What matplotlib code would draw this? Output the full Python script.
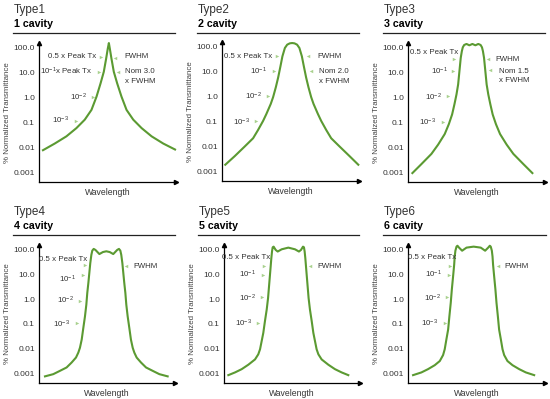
import matplotlib
matplotlib.use("Agg")
import matplotlib.pyplot as plt
from matplotlib.lines import Line2D

plt.rcParams['font.family'] = ['Liberation Sans', 'DejaVu Sans']
plt.rcParams['mathtext.fontset'] = 'custom'
plt.rcParams['mathtext.rm'] = 'Liberation Sans'

# --- curve data (x = relative wavelength 0..100, t = % normalized transmittance) ---
x1 = [2.9, 11.5, 20.0, 27.3, 33.4, 38.3, 42.0, 44.9, 47.3, 49.0, 50.2, 51.0,
      51.7, 52.9, 54.6, 57.1, 60.2, 63.9, 68.8, 74.9, 82.2, 90.7, 99.3]
t1 = [0.0076, 0.0141, 0.0275, 0.059, 0.129, 0.32, 1.1, 3.7, 11, 37, 94, 158,
      94, 37, 11, 3.7, 1.1, 0.32, 0.129, 0.059, 0.0275, 0.0141, 0.0081]

x2 = [2.4, 9.3, 16.6, 22.7, 26.3, 30.0, 32.4, 35.6, 37.3, 39.3, 41.0, 42.7, 44.1,
      45.9, 47.6, 49.5, 51.2, 52.9, 54.8, 56.5, 58.3, 59.7, 61.4, 63.1, 65.1,
      66.8, 70.0, 72.4, 76.1, 79.7, 85.8, 93.1, 99.5]
t2 = [0.0018, 0.0040, 0.0098, 0.021, 0.045, 0.105, 0.20, 0.51, 0.95, 2.4, 5.9, 17,
      42, 91, 124, 140, 144, 140, 124, 91, 42, 17, 5.9, 2.4, 0.95, 0.51, 0.20,
      0.105, 0.045, 0.021, 0.0098, 0.0040, 0.0018]

x3 = [3.2, 9.8, 17.1, 22.0, 26.8, 29.8, 32.2, 33.9, 35.4, 36.6, 37.3, 38.0, 38.5,
      39.3, 40.0, 41.0, 42.7, 44.8, 47.0, 49.2, 51.3, 53.0, 54.0, 54.7, 55.5,
      56.0, 56.7, 57.4, 58.6, 60.1, 61.8, 64.2, 67.2, 72.0, 76.9, 84.2, 90.8]
t3 = [0.00091, 0.0021, 0.0054, 0.0128, 0.034, 0.085, 0.21, 0.54, 1.35, 3.4, 8.5,
      21, 40, 74, 106, 132, 145, 128, 145, 128, 145, 132, 106, 74, 40, 21, 8.5,
      3.4, 1.35, 0.54, 0.21, 0.085, 0.034, 0.0128, 0.0054, 0.0021, 0.00091]

x4 = [4.4, 10.5, 15.4, 20.3, 24.0, 27.2, 28.9, 30.1, 31.4, 32.6, 33.8, 34.8, 35.5,
      36.3, 37.0, 37.7, 38.5, 39.2, 40.2, 41.5, 44.4, 47.0, 49.5, 52.0, 54.6,
      57.5, 58.8, 59.8, 60.5, 61.3, 62.0, 62.7, 63.5, 64.2, 65.2, 66.4, 67.6,
      68.9, 70.1, 71.8, 75.0, 78.7, 83.6, 88.5, 94.6]
t4 = [0.00074, 0.00091, 0.00124, 0.0017, 0.0027, 0.0043, 0.0068, 0.0107, 0.023,
      0.069, 0.20, 0.60, 1.8, 4.6, 11.5, 29, 63, 94, 110, 100, 68, 82, 88, 82, 68,
      100, 110, 94, 63, 29, 11.5, 4.6, 1.8, 0.60, 0.20, 0.069, 0.023, 0.0107,
      0.0068, 0.0043, 0.0027, 0.0017, 0.00124, 0.00091, 0.00074]

x5 = [3.2, 8.1, 13.0, 17.9, 22.8, 25.2, 26.5, 27.7, 28.9, 30.1, 31.4, 32.4, 33.1,
      33.8, 34.3, 34.8, 35.3, 35.8, 36.5, 38.0, 39.5, 42.4, 47.3, 52.2, 55.1,
      56.6, 58.1, 58.8, 59.3, 59.8, 60.3, 60.8, 61.5, 62.2, 63.2, 64.5, 65.7,
      66.9, 68.1, 69.4, 71.8, 76.7, 81.6, 86.5, 91.4]
t5 = [0.00083, 0.00107, 0.00145, 0.0022, 0.0036, 0.0058, 0.0093, 0.020, 0.043,
      0.128, 0.38, 1.12, 3.3, 9.7, 21, 46, 86, 128, 136, 100, 86, 106, 124, 106,
      86, 100, 136, 128, 86, 46, 21, 9.7, 3.3, 1.12, 0.38, 0.128, 0.043, 0.020,
      0.0093, 0.0058, 0.0036, 0.0022, 0.00145, 0.00107, 0.00083]

x6 = [3.7, 9.8, 14.6, 19.5, 23.2, 25.6, 26.8, 28.0, 29.3, 30.2, 31.2, 32.0, 32.9,
      33.7, 34.1, 34.6, 35.4, 36.1, 37.2, 39.5, 42.7, 47.9, 53.1, 56.3, 58.6,
      59.7, 60.4, 61.2, 61.7, 62.1, 62.9, 63.8, 64.6, 65.6, 66.5, 67.8, 69.0,
      70.2, 72.6, 76.3, 81.2, 86.0, 92.1]
t6 = [0.00083, 0.00107, 0.00145, 0.0021, 0.0031, 0.0054, 0.0093, 0.023, 0.059,
      0.20, 0.71, 2.5, 8.3, 25, 54, 93, 136, 148, 125, 93, 124, 136, 124, 93, 125,
      148, 136, 93, 54, 25, 8.3, 2.5, 0.71, 0.20, 0.059, 0.023, 0.0093, 0.0054,
      0.0031, 0.0021, 0.00145, 0.00107, 0.00083]

types = ['Type1', 'Type2', 'Type3', 'Type4', 'Type5', 'Type6']
cavities = ['1 cavity', '2 cavity', '3 cavity', '4 cavity', '5 cavity', '6 cavity']
tick_vals = [100, 10, 1, 0.1, 0.01, 0.001]
tick_labels = ['100.0', '10.0', '1.0', '0.1', '0.01', '0.001']
nom_labels = ['Nom 3.0', 'Nom 2.0', 'Nom 1.5']

curves = [(x1, t1), (x2, t2), (x3, t3), (x4, t4), (x5, t5), (x6, t6)]

LINE = '#5b9a32'
MARK = '#a9d18e'
TXT = '#333333'
W, H = 550, 399

# layout in pixels: axes box (left, top, right, bottom), title x, title y, rule right end
boxes = [(39, 43, 176, 182), (222, 42, 359, 181), (408, 43, 545, 182),
         (39, 245, 175, 383), (224, 245, 360, 383), (408, 245, 545, 383)]
heads = [(14, 10, 175), (198, 10, 359), (384, 10, 545),
         (14, 212, 175), (199, 212, 359), (384, 212, 546)]

# annotation layout: (text x, text log-y, marker x, marker log-y) in data units
left_notes = [
    [(42.0, 1.64, 45.6, 1.64), (39.0, 1.04, 43.9, 1.04), (34.6, 0.01, 39.5, 0.04), (22.0, -0.93, 26.8, -0.96)],
    [(36.6, 1.63, 39.8, 1.63), (32.4, 1.03, 37.6, 1.03), (29.3, 0.0, 33.7, 0.03), (20.7, -1.02, 25.1, -1.0)],
    [(36.6, 1.8, 33.7, 1.56), (29.3, 1.07, 32.9, 1.07), (24.4, 0.0, 29.3, 0.07), (20.7, -1.0, 25.6, -0.97)],
    [(35.5, 1.6, 33.8, 1.37), (27.2, 0.82, 32.6, 0.99), (25.7, -0.06, 30.1, -0.08), (22.8, -1.0, 27.7, -0.96)],
    [(33.8, 1.7, 29.7, 1.35), (23.3, 0.99, 28.9, 0.97), (23.3, 0.04, 28.2, 0.08), (20.3, -0.98, 25.2, -0.96)],
    [(35.4, 1.7, 30.5, 1.35), (24.4, 0.99, 29.8, 0.97), (23.9, 0.05, 28.8, 0.08), (22.0, -0.98, 26.8, -0.96)],
]
fwhm_notes = [(62.0, 1.64, 55.4, 1.61), (69.8, 1.63, 62.9, 1.63), (63.9, 1.53, 58.5, 1.56),
              (69.4, 1.33, 63.7, 1.33), (68.9, 1.33, 63.2, 1.33), (70.7, 1.33, 65.9, 1.33)]
nom_notes = [(62.7, 1.04, 0.64, 57.8, 1.04), (70.7, 1.01, 0.61, 64.9, 1.03),
             (66.3, 1.07, 0.67, 60.2, 1.11)]

FS = 5.7


def draw_panel(i, ax):
    x, t = curves[i]
    ax.plot(x, t, color=LINE, lw=1.5, solid_joinstyle='round', clip_on=False)
    ax.set_yscale('log')
    ax.set_xlim(0, 100)
    ax.set_ylim(10 ** -3.4, 10 ** 2.2)
    ax.set_yticks(tick_vals)
    ax.set_yticklabels(tick_labels)
    ax.minorticks_off()
    ax.set_xticks([])
    ax.tick_params(axis='y', length=0, pad=3, labelsize=6, labelcolor=TXT)
    for s in ['top', 'right']:
        ax.spines[s].set_visible(False)
    for s in ['left', 'bottom']:
        ax.spines[s].set_linewidth(0.9)
        ax.spines[s].set_color('black')
    ax.plot(0, 1, '^', color='black', ms=3, transform=ax.transAxes, clip_on=False)
    ax.plot(1, 0, '>', color='black', ms=3, transform=ax.transAxes, clip_on=False)
    ax.set_ylabel('% Normalized Transmittance', fontsize=5.7, color='#444444')
    ax.yaxis.set_label_coords(-0.205, 0.5)
    ax.set_xlabel('Wavelength', fontsize=6.2, color=TXT)
    ax.xaxis.set_label_coords(0.5, -0.045)

    texts = ['0.5 x Peak Tx',
             r'$\mathregular{10^{-1}}$x Peak Tx' if i == 0 else r'$\mathregular{10^{-1}}$',
             r'$\mathregular{10^{-2}}$', r'$\mathregular{10^{-3}}$']
    for txt, (tx, ty, mx, my) in zip(texts, left_notes[i]):
        ax.text(tx, 10 ** ty, txt, ha='right', va='center', fontsize=FS, color=TXT)
        ax.plot(mx, 10 ** my, '>', color=MARK, ms=2.5, mec='none')
    tx, ty, mx, my = fwhm_notes[i]
    ax.text(tx, 10 ** ty, 'FWHM', ha='left', va='center', fontsize=FS, color=TXT)
    ax.plot(mx, 10 ** my, '<', color=MARK, ms=2.5, mec='none')
    if i < 3:
        tx, ty, ty2, mx, my = nom_notes[i]
        ax.text(tx, 10 ** ty, nom_labels[i], ha='left', va='center', fontsize=FS, color=TXT)
        ax.text(tx, 10 ** ty2, 'x FWHM', ha='left', va='center', fontsize=FS, color=TXT)
        ax.plot(mx, 10 ** my, '<', color=MARK, ms=2.5, mec='none')


fig = plt.figure(figsize=(5.5, 3.99), dpi=100)

for i in range(6):
    l, tp, r, b = boxes[i]
    ax = fig.add_axes([l / W, 1 - b / H, (r - l) / W, (b - tp) / H])
    draw_panel(i, ax)
    hx, hy, hr = heads[i]
    fig.text(hx / W, 1 - hy / H, types[i], fontsize=8.5, color='#333333', va='center', ha='left')
    fig.text(hx / W, 1 - (hy + 14) / H, cavities[i], fontsize=7.7, fontweight='bold',
             color='black', va='center', ha='left')
    fig.add_artist(Line2D([(hx - 1) / W, hr / W], [1 - (hy + 23) / H] * 2,
                          color='#222222', lw=0.9))

fig.savefig('out.png', dpi=100)
